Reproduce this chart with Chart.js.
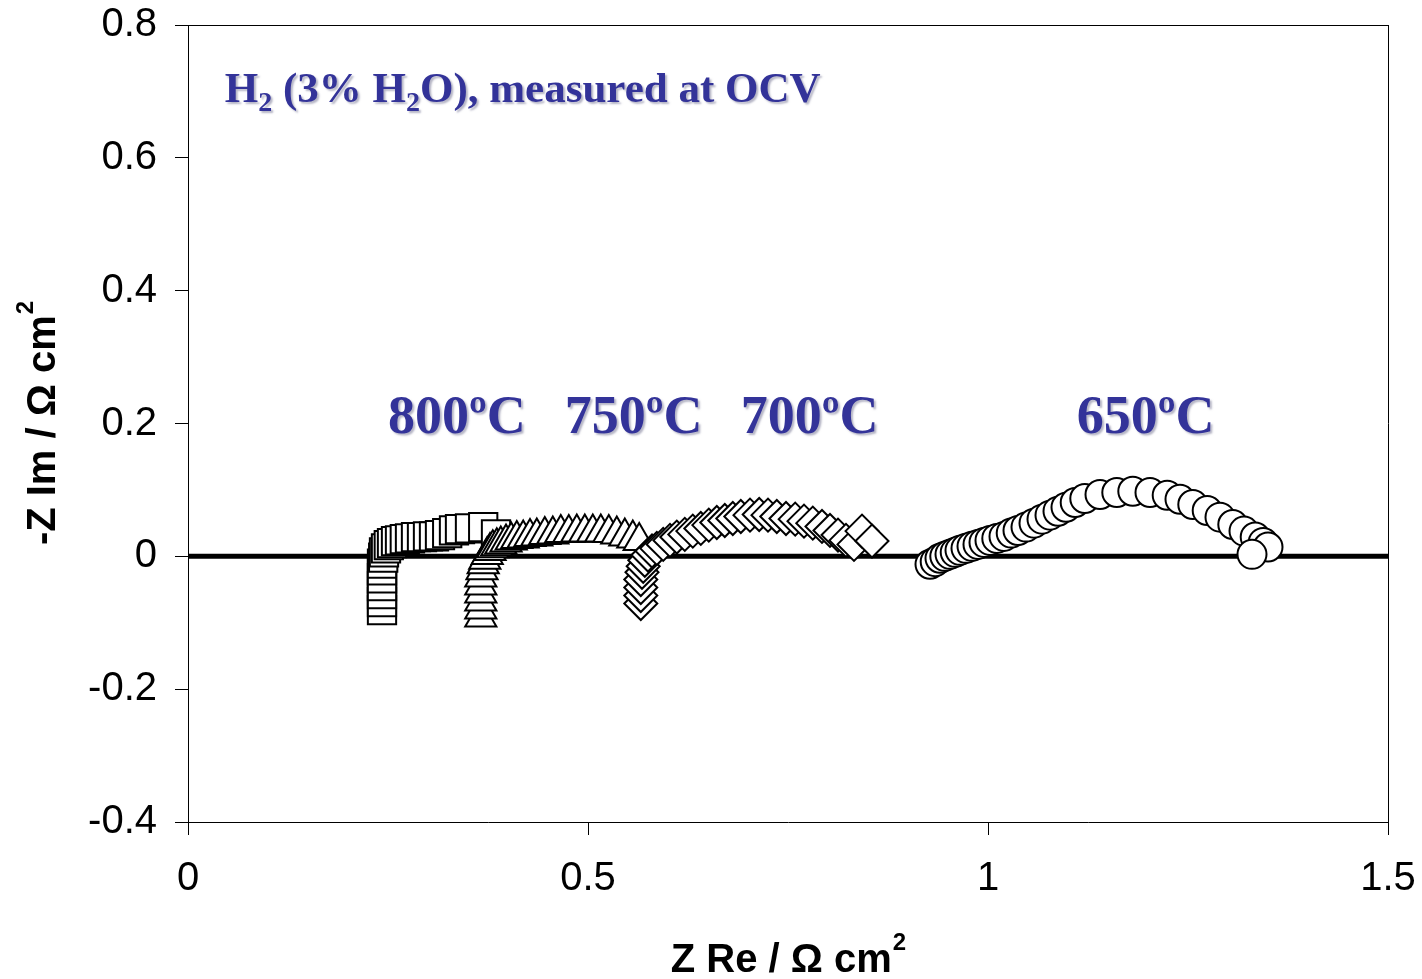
<!DOCTYPE html>
<html>
<head>
<meta charset="utf-8">
<script src="https://cdn.jsdelivr.net/npm/chart.js@4.4.0/dist/chart.umd.min.js"></script>
<style>
  html, body { margin: 0; padding: 0; background: #fff; }
  #wrap { width: 1422px; height: 979px; }
</style>
</head>
<body>
<div id="wrap"><canvas id="nyquist" width="1422" height="979"></canvas></div>
<script>
// Impedance spectra, Z' (x) against -Z'' (y), in ohm cm2

// 800 ºC
const re800 = [0.2425,0.2425,0.2425,0.2425,0.2425,0.2425,0.2425,0.244,0.245,0.2475,0.251,0.255,0.26,0.265,0.271,0.2775,0.285,0.2925,0.30,0.3075,0.315,0.324,0.3325,0.34,0.3525,0.369,0.385];
const im800 = [-0.081,-0.069,-0.057,-0.045,-0.033,-0.021,-0.011,-0.002,0.006,0.012,0.017,0.020,0.023,0.024,0.026,0.027,0.029,0.029,0.030,0.030,0.032,0.035,0.039,0.041,0.042,0.044,0.033];

// 750 ºC
const re750 = [0.366,0.366,0.366,0.366,0.366,0.366,0.3675,0.369,0.371,0.374,0.3775,0.381,0.386,0.391,0.3975,0.404,0.411,0.419,0.4275,0.436,0.446,0.456,0.466,0.476,0.486,0.496,0.506,0.516,0.526,0.536,0.546,0.556,0.564];
const im750 = [-0.092,-0.080,-0.068,-0.056,-0.044,-0.032,-0.021,-0.012,-0.005,0.002,0.008,0.012,0.015,0.018,0.021,0.024,0.026,0.027,0.029,0.030,0.032,0.033,0.035,0.035,0.036,0.036,0.036,0.036,0.035,0.033,0.030,0.027,0.023];

// 700 ºC
const re700 = [0.566,0.566,0.566,0.566,0.5675,0.569,0.571,0.575,0.58,0.586,0.594,0.6025,0.611,0.621,0.631,0.641,0.651,0.661,0.671,0.681,0.691,0.7025,0.714,0.725,0.736,0.7475,0.759,0.77,0.781,0.7925,0.8025,0.8125,0.8225,0.8325,0.8425,0.855];
const im700 = [-0.071,-0.059,-0.047,-0.035,-0.024,-0.015,-0.006,0.002,0.008,0.012,0.018,0.024,0.029,0.033,0.038,0.042,0.047,0.051,0.054,0.057,0.060,0.062,0.063,0.062,0.060,0.057,0.056,0.053,0.050,0.045,0.039,0.032,0.024,0.018,0.038,0.023];

// 650 ºC
const re650 = [0.9275,0.934,0.94,0.946,0.9525,0.959,0.965,0.9725,0.98,0.9875,0.995,1.0025,1.011,1.02,1.029,1.0375,1.0475,1.0575,1.0675,1.0775,1.0875,1.0975,1.109,1.121,1.14,1.161,1.181,1.2025,1.224,1.24,1.256,1.274,1.29,1.306,1.32,1.334,1.344,1.35,1.33];
const im650 = [-0.012,-0.008,-0.003,0.000,0.003,0.006,0.009,0.012,0.015,0.018,0.021,0.024,0.027,0.030,0.035,0.039,0.044,0.050,0.056,0.062,0.068,0.074,0.081,0.087,0.093,0.096,0.098,0.096,0.092,0.086,0.078,0.069,0.059,0.048,0.038,0.029,0.021,0.014,0.003];

// zero reference line
const reZero = [0, 1.5];
const imZero = [0, 0];

const xTicks = [0, 0.5, 1, 1.5];
const yTicks = [-0.4, -0.2, 0, 0.2, 0.4, 0.6, 0.8];

const tempNames = ['800ºC', '750ºC', '700ºC', '650ºC'];
// where each temperature label sits (data units, left/baseline)
const tempAnchor = [[0.25, 0.185], [0.471, 0.185], [0.691, 0.185], [1.111, 0.185]];

const pts = (xs, ys) => xs.map((x, i) => ({ x: x, y: ys[i] }));

function marker(label, xs, ys, style, radius, order) {
  return {
    label: label,
    data: pts(xs, ys),
    showLine: false,
    pointStyle: style,
    pointRadius: radius,
    pointHoverRadius: radius,
    pointBackgroundColor: '#ffffff',
    pointBorderColor: '#000000',
    pointBorderWidth: 2,
    order: order
  };
}

const BLUE = '#333399';

// text runs: [string, subscript?]
function drawRuns(ctx, runs, x, y, size) {
  let cx = x;
  runs.forEach(r => {
    const sub = r[1];
    ctx.font = 'bold ' + (sub ? Math.round(size * 0.66) : size) + 'px "Liberation Serif", "Times New Roman", serif';
    ctx.fillText(r[0], cx, sub ? y + size * 0.2 : y);
    cx += ctx.measureText(r[0]).width;
  });
}

const decor = {
  id: 'decor',
  beforeDatasetsDraw(chart) {
    const { ctx, chartArea: a } = chart;
    ctx.save();
    ctx.strokeStyle = '#000';
    ctx.lineWidth = 1;
    ctx.beginPath();
    ctx.moveTo(a.left, Math.round(a.top) + 0.5);
    ctx.lineTo(a.right, Math.round(a.top) + 0.5);
    ctx.moveTo(Math.round(a.right) + 0.5, a.top);
    ctx.lineTo(Math.round(a.right) + 0.5, a.bottom);
    ctx.stroke();
    ctx.restore();
  },
  afterDraw(chart) {
    const { ctx, chartArea: a, scales: { x, y } } = chart;
    ctx.save();

    // annotations
    ctx.fillStyle = BLUE;
    ctx.textAlign = 'left';
    ctx.textBaseline = 'alphabetic';
    ctx.shadowColor = 'rgba(120,120,150,0.55)';
    ctx.shadowOffsetX = 2;
    ctx.shadowOffsetY = 2;
    ctx.shadowBlur = 2;
    drawRuns(ctx, [['H', 0], ['2', 1], [' (3% H', 0], ['2', 1], ['O), measured at OCV', 0]],
      x.getPixelForValue(0.046), y.getPixelForValue(0.684), 43);
    tempNames.forEach((t, i) => {
      drawRuns(ctx, [[t, 0]], x.getPixelForValue(tempAnchor[i][0]), y.getPixelForValue(tempAnchor[i][1]), 54);
    });
    ctx.shadowColor = 'transparent';

    // axis titles
    ctx.fillStyle = '#000';
    const big = 'bold 40px "Liberation Sans", Arial, sans-serif';
    const small = 'bold 24px "Liberation Sans", Arial, sans-serif';

    ctx.font = big;
    const xt = 'Z Re / Ω cm';
    const wx = ctx.measureText(xt).width;
    ctx.font = small;
    const ws = ctx.measureText('2').width;
    let x0 = (a.left + a.right) / 2 - (wx + ws) / 2;
    ctx.font = big;
    ctx.fillText(xt, x0, 972);
    ctx.font = small;
    ctx.fillText('2', x0 + wx + 1, 950);

    ctx.translate(55, (a.top + a.bottom) / 2);
    ctx.rotate(-Math.PI / 2);
    ctx.font = big;
    const yt = '-Z Im / Ω cm';
    const wy = ctx.measureText(yt).width;
    x0 = -(wy + ws) / 2;
    ctx.fillText(yt, x0, 0);
    ctx.font = small;
    ctx.fillText('2', x0 + wy + 1, -22);
    ctx.restore();
  }
};

const tickFont = { family: '"Liberation Sans", Arial, sans-serif', size: 40 };
const fmt = v => String(+Number(v).toFixed(1));

new Chart(document.getElementById('nyquist'), {
  type: 'scatter',
  data: {
    datasets: [
      marker('800ºC', re800, im800, 'rect', 20, 4),
      marker('750ºC', re750, im750, 'triangle', 18, 3),
      marker('700ºC', re700, im700, 'rectRot', 16.5, 2),
      marker('650ºC', re650, im650, 'circle', 14.5, 1),
      {
        label: 'zero',
        data: pts(reZero, imZero),
        showLine: true,
        borderColor: '#000',
        borderWidth: 5,
        pointRadius: 0,
        order: 10
      }
    ]
  },
  options: {
    responsive: false,
    devicePixelRatio: 1,
    animation: false,
    layout: { padding: { top: 25, right: 34, left: 0, bottom: 0 } },
    plugins: { legend: { display: false }, tooltip: { enabled: false } },
    scales: {
      x: {
        type: 'linear',
        min: 0, max: 1.5,
        afterBuildTicks: s => { s.ticks = xTicks.map(v => ({ value: v })); },
        afterFit: s => { s.height = 157; s.paddingLeft = 0; s.paddingRight = 0; },
        grid: { drawOnChartArea: false, drawTicks: true, tickLength: 13, color: '#000', lineWidth: 1 },
        border: { display: true, color: '#000', width: 1 },
        ticks: { font: tickFont, color: '#000', padding: 20, maxRotation: 0, autoSkip: false, callback: fmt }
      },
      y: {
        type: 'linear',
        min: -0.4, max: 0.8,
        afterBuildTicks: s => { s.ticks = yTicks.map(v => ({ value: v })); },
        afterFit: s => { s.width = 188; s.paddingTop = 0; s.paddingBottom = 0; },
        grid: { drawOnChartArea: false, drawTicks: true, tickLength: 13, color: '#000', lineWidth: 1 },
        border: { display: true, color: '#000', width: 1 },
        ticks: { font: tickFont, color: '#000', padding: 18, autoSkip: false, callback: fmt }
      }
    }
  },
  plugins: [decor]
});
</script>
</body>
</html>
